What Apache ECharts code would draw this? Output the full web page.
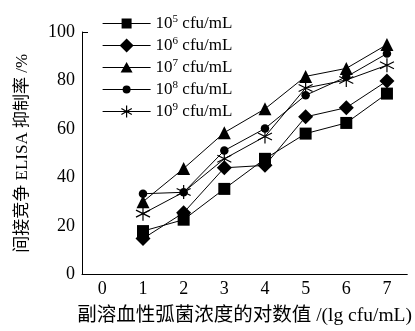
<!DOCTYPE html>
<html><head><meta charset="utf-8">
<script src="https://cdn.jsdelivr.net/npm/echarts@6/dist/echarts.min.js"></script>
<style>html,body{margin:0;padding:0;background:#fff}#c{width:415px;height:331px}</style>
</head><body><div id="c"></div>
<script>
const categories = ['0','1','2','3','4','5','6','7'];
const xValues = ['1','2','3','4','5','6','7'];
const yTicks = {min: 0, max: 100, interval: 20};
const seriesNames = ['10{sup|5} cfu/mL','10{sup|6} cfu/mL','10{sup|7} cfu/mL','10{sup|8} cfu/mL','10{sup|9} cfu/mL'];
const legendKeys = ['1e5','1e6','1e7','1e8','1e9'];
const s1e5 = [17.9, 22.6, 35.3, 47.7, 58.1, 62.5, 74.6];
const s1e6 = [14.8, 25.5, 44.0, 45.0, 65.0, 68.8, 79.8];
const s1e7 = [30.0, 43.7, 58.5, 68.3, 81.7, 85.0, 94.8];
const s1e8 = [33.3, 33.9, 51.1, 60.2, 73.9, 81.5, 91.1];
const s1e9 = [25.1, 34.0, 47.7, 56.9, 76.9, 80.2, 86.3];

const font = "'Liberation Serif','Noto Sans CJK SC',serif";
const star = 'path://M0,-10L0,10M-8.66,-5L8.66,5M-8.66,5L8.66,-5';
const starStyle = {color:'rgba(0,0,0,0)', borderColor:'#000', borderWidth:1.2};
const styles = [
  {symbol:'rect', symbolSize: 12},
  {symbol:'diamond', symbolSize: 15},
  {symbol:'triangle', symbolSize: 13},
  {symbol:'circle', symbolSize: 8.5},
  {symbol: star, symbolSize: 14, itemStyle: starStyle}
];
// legend icons: line + marker drawn in a 48x16 box (anchored by two move points)
const anchor = 'M0,0M48,16';
const bar = 'M0,7.5L48,7.5L48,8.5L0,8.5Z';
const legendIcons = [
  'path://' + anchor + bar + 'M19,3L29,3L29,13L19,13Z',
  'path://' + anchor + bar + 'M24,1L31,8L24,15L17,8Z',
  'path://' + anchor + bar + 'M24,2.5L30,13L18,13Z',
  'path://' + anchor + bar + 'M28,8A4,4 0 1 1 20,8A4,4 0 1 1 28,8Z',
  'path://' + anchor + 'M0,8L48,8M24,2L24,14M18.8,5L29.2,11M18.8,11L29.2,5'
];
const datas = [s1e5, s1e6, s1e7, s1e8, s1e9];
const series = datas.map((d,i)=>Object.assign({
  name: legendKeys[i], type:'line',
  data: d.map((v,j)=>[xValues[j], v]),
  lineStyle:{color:'#000', width:1},
  itemStyle:{color:'#000'},
  emphasis:{disabled:true}, animation:false
}, styles[i]));

const chart = echarts.init(document.getElementById('c'));
chart.setOption({
  animation:false,
  textStyle:{fontFamily:font, color:'#000'},
  grid:{left:82, top:32, bottom:50, right:-8},
  legend:{
    orient:'vertical', left:97, top:9, itemGap:4, itemWidth:48, itemHeight:16,
    data: legendKeys.map((k,i)=>({name:k, icon: legendIcons[i],
      itemStyle: i===4 ? starStyle : {color:'#000', borderWidth:0}})),
    formatter: n => seriesNames[legendKeys.indexOf(n)],
    textStyle:{fontFamily:font, fontSize:17, color:'#000',
      rich:{sup:{fontSize:11, fontFamily:font, color:'#000', verticalAlign:'bottom', padding:[0,0,8,0]}}}
  },
  xAxis:{
    type:'category', data: categories, boundaryGap:true,
    axisLine:{lineStyle:{color:'#000', width:1}},
    axisTick:{inside:true, length:5, lineStyle:{color:'#000'}},
    axisLabel:{fontFamily:font, fontSize:18, color:'#000', margin:6},
    name:'副溶血性弧菌浓度的对数值 /(lg cfu/mL)', nameLocation:'middle', nameGap:32,
    nameTextStyle:{fontFamily:font, fontSize:19.5, color:'#000'}
  },
  yAxis:[{
    type:'value', min:yTicks.min, max:yTicks.max, interval:yTicks.interval,
    axisLine:{show:true, lineStyle:{color:'#000', width:1}},
    axisTick:{show:false}, splitLine:{show:false},
    axisLabel:{fontFamily:font, fontSize:18, color:'#000', margin:7},
    name:'间接竞争 ELISA 抑制率 /%', nameLocation:'middle', nameGap:51,
    nameTextStyle:{fontFamily:font, fontSize:17, color:'#000'}
  },{
    type:'value', position:'left', min:yTicks.min, max:yTicks.max, interval:yTicks.max,
    axisLine:{show:false}, axisLabel:{show:false}, splitLine:{show:false},
    axisTick:{show:true, inside:true, length:6, lineStyle:{color:'#000'}}
  }],
  series
});
</script></body></html>
